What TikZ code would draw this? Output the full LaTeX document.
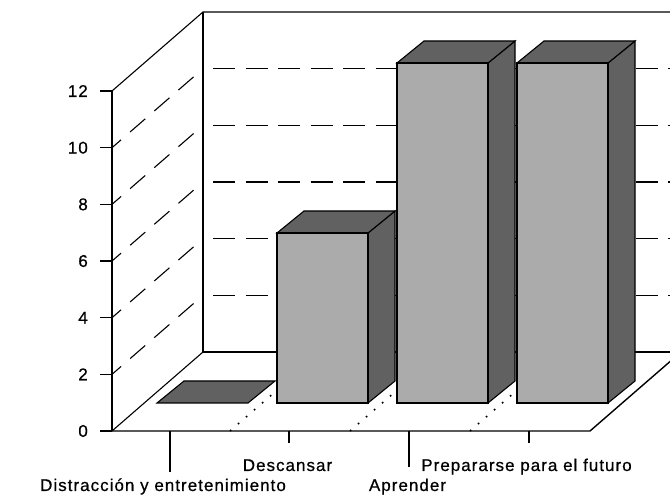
\documentclass[tikz,border=0pt]{standalone}
\usepackage{fontspec}
\setmainfont{Liberation Sans}[LetterSpace=6,FakeBold=0.6]
\begin{document}
\begin{tikzpicture}[x=1pt,y=-1pt,
  axis/.style={line width=1.4pt},
  wall/.style={line width=1.1pt},
  gridd/.style={line width=1.1pt, dash pattern=on 22pt off 10.5pt, dash phase=22.5pt},
  diag/.style={line width=1.1pt, dash pattern=on 20pt off 12pt, dash phase=8pt},
  floordot/.style={line width=1.6pt, dash pattern=on 1.6pt off 9pt},
  frontface/.style={draw=black, line width=1.1pt, fill=black!33},
  sideface/.style={draw=black, line width=1.1pt, fill=black!62},
  lbl/.style={font=\fontsize{17}{17}\selectfont, inner sep=0pt}
]
\useasboundingbox (0,0) rectangle (670,502);
\fill[white] (0,0) rectangle (670,502);
\begin{scope}
\clip (0,0) rectangle (670,502);
% back wall gridlines
\foreach \v in {2,4,...,10} {
  \draw[gridd] (203,{352-28.33*\v}) -- (690,{352-28.33*\v});
}
% side wall diagonals
\foreach \v in {2,4,...,10} {
  \draw[diag] (112,{431-28.33*\v}) -- (203,{352-28.33*\v});
}
% walls
\draw[wall] (112,91) -- (203,12) -- (690,12);
\draw[wall] (203,12) -- (203,352) -- (690,352);
\draw[wall] (112,431) -- (203,352);
\draw[axis] (112,91) -- (112,431);
\draw[axis] (100,431) -- (590,431) -- (681,352);
% floor dotted lines
\foreach \x in {230,350,470} {
  \draw[floordot] (\x,431) -- ({\x+91},352);
}
% value ticks and labels
\foreach \v in {0,2,...,12} {
  \draw[axis] (100,{431-28.33*\v}) -- (112,{431-28.33*\v});
  \node[lbl, anchor=east] (y\v) at (88,{431-28.33*\v}) {\v};
}
% category ticks
\draw[wall] (170,431) -- (170,472);
\draw[wall] (289,431) -- (289,443);
\draw[wall] (409,431) -- (409,467);
\draw[wall] (529,431) -- (529,443);
% bar 1 (value 0)
\filldraw[sideface] (157,403) -- (184,381) -- (275,381) -- (248,403) -- cycle;
% bars 2-4
\foreach \xl/\h in {277/170, 397/340, 517/340} {
  \filldraw[sideface] ({\xl+91},403) -- ({\xl+118},381) -- ({\xl+118},{381-\h}) -- ({\xl+91},{403-\h}) -- cycle;
  \filldraw[sideface] (\xl,{403-\h}) -- ({\xl+27},{381-\h}) -- ({\xl+118},{381-\h}) -- ({\xl+91},{403-\h}) -- cycle;
  \filldraw[frontface] (\xl,403) rectangle ({\xl+91},{403-\h});
}
\end{scope}
% category labels
\node[lbl, anchor=base] (l1) at (163,491) {Distracción y entretenimiento};
\node[lbl, anchor=base] (l2) at (287.5,471) {Descansar};
\node[lbl, anchor=base] (l3) at (407.5,491) {Aprender};
\node[lbl, anchor=base] (l4) at (526.5,471) {Prepararse para el futuro};
\end{tikzpicture}
\end{document}
